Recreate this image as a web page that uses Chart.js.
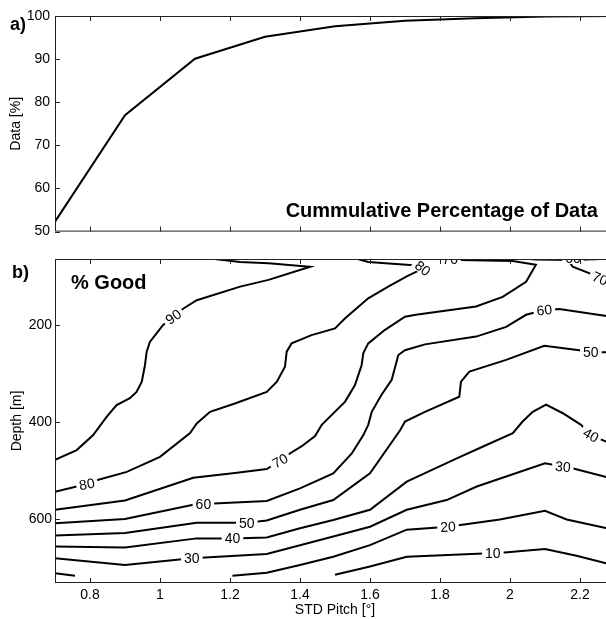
<!DOCTYPE html>
<html>
<head>
<meta charset="utf-8">
<script src="https://cdn.jsdelivr.net/npm/chart.js@4.4.1/dist/chart.umd.min.js"></script>
<style>
  html, body { margin: 0; padding: 0; overflow: hidden; background: #fff; }
  #wrap { position: relative; width: 606px; height: 619px; overflow: hidden; }
  canvas { position: absolute; left: 0; }
  #topChart { top: 0; }
  #bottomChart { top: 245px; }
  .note { position: absolute; font-family: "Liberation Sans", Arial, sans-serif; font-weight: bold;
          line-height: 1; white-space: nowrap; color: #000; }
</style>
</head>
<body>
<div id="wrap">
  <canvas id="topChart" width="620" height="245"></canvas>
  <canvas id="bottomChart" width="620" height="374"></canvas>
  <div class="note" style="left:10px; top:15px; font-size:18px;">a)</div>
  <div class="note" style="left:12px; top:263px; font-size:18px;">b)</div>
  <div class="note" style="left:71px; top:272px; font-size:20px;">% Good</div>
  <div class="note" style="right:8px; top:200px; font-size:20px;">Cummulative Percentage of Data</div>
</div>
<script>
// --- panel a: cumulative percentage of data vs STD pitch
const pitch = [0.7, 0.9, 1.1, 1.3, 1.5, 1.7, 1.9, 2.1, 2.3];
const dataPercent = [52.3, 77.0, 90.1, 95.2, 97.6, 98.9, 99.5, 99.9, 100];

const xTicks = [0.8, 1, 1.2, 1.4, 1.6, 1.8, 2, 2.2];
const xTickLabels = ['0.8', '1', '1.2', '1.4', '1.6', '1.8', '2', '2.2'];
const pctTicks = [50, 60, 70, 80, 90, 100];
const depthTicks = [200, 400, 600];

// --- panel b: % good contours, [STD pitch, depth m]
const c90 = [[1.12,61],[1.229,70],[1.31,73],[1.429,80],[1.31,107],[1.229,121],[1.105,149],[1.067,166],[1.038,183],
  [1.009,200],[0.971,235],[0.962,255],[0.957,283],[0.948,317],[0.933,338],[0.914,351],[0.876,365],[0.848,389],
  [0.809,427],[0.762,458],[0.7,478]];
const c80 = [[0.7,544],[0.791,528],[0.819,520],[0.905,503],[1.0,472],[1.086,423],[1.105,403],[1.143,379],[1.214,362],
  [1.305,338],[1.334,317],[1.357,286],[1.362,255],[1.376,238],[1.433,221],[1.5,207],[1.529,186],[1.595,145],
  [1.652,121],[1.705,100],[1.733,90],[1.751,83],[1.724,77],[1.595,70],[1.55,61]];
const c70 = [[0.7,581],[0.9,562],[1.095,515],[1.214,505],[1.305,497],[1.343,480],[1.371,465],[1.405,450],[1.443,429],
  [1.462,406],[1.529,358],[1.557,324],[1.576,283],[1.581,258],[1.595,238],[1.643,210],[1.7,183],[1.731,179],
  [1.903,162],[1.979,142],[2.046,111],[2.074,76],[2.008,68],[1.855,66],[1.78,61]];
const c70b = [[2.172,72],[2.179,80],[2.226,93],[2.257,104],[2.3,116]];
const c60 = [[0.7,609],[0.9,600],[1.105,569],[1.124,569],[1.305,563],[1.4,537],[1.495,506],[1.548,465],[1.581,427],
  [1.595,406],[1.605,379],[1.633,344],[1.662,313],[1.681,262],[1.7,252],[1.757,240],[1.903,224],[1.989,204],
  [2.046,179],[2.098,169],[2.141,167],[2.3,184]];
const c60b = [[2.0,61],[2.074,65],[2.18,66],[2.3,63]];
const c50 = [[0.7,634],[0.9,629],[1.105,608],[1.248,608],[1.305,603],[1.4,581],[1.495,561],[1.6,506],[1.686,417],
  [1.7,399],[1.757,379],[1.855,348],[1.86,317],[1.884,296],[1.989,272],[2.098,243],[2.198,252],[2.231,256],[2.3,256]];
const c40 = [[0.7,657],[0.9,659],[1.105,640],[1.207,640],[1.305,638],[1.4,619],[1.495,602],[1.6,581],[1.705,523],
  [1.848,475],[1.931,448],[2.008,423],[2.036,399],[2.065,379],[2.103,364],[2.151,382],[2.203,406],[2.231,427],[2.3,448]];
const c30 = [[0.7,681],[0.9,695],[1.091,681],[1.305,672],[1.4,654],[1.495,636],[1.6,616],[1.705,581],[1.819,561],
  [1.905,533],[2.1,485],[2.151,492],[2.181,496],[2.3,518]];
const c20a = [[0.7,712],[0.757,717]];
const c20b = [[1.207,717],[1.305,711],[1.4,695],[1.495,678],[1.6,654],[1.705,622],[1.823,616],[1.971,601],[2.1,583],
  [2.162,601],[2.3,623]];
const c10 = [[1.5,715],[1.6,698],[1.705,678],[1.924,671],[1.951,671],[2.1,662],[2.19,676],[2.3,696]];

const contours = [c90, c80, c70, c70b, c60, c60b, c50, c40, c30, c20a, c20b, c10];

// contour labels
const labelText  = ['90', '80', '80', '70', '70', '70', '60', '60', '60', '50', '50', '40', '40', '30', '30', '20', '10'];
const labelPitch = [1.038, 0.791, 1.751, 1.343, 1.829, 2.257, 1.124, 2.098, 2.18, 1.248, 2.231, 1.207, 2.231, 1.091, 2.151, 1.823, 1.951];
const labelDepth = [183, 528, 83, 480, 64, 104, 569, 169, 62, 608, 256, 640, 427, 681, 492, 616, 671];

const FONT = '"Liberation Sans", Arial, sans-serif';
Chart.defaults.font.family = FONT;
Chart.defaults.font.size = 14;
Chart.defaults.color = '#000';

// box with inward ticks (right side is off the page)
const frame = {
  id: 'frame',
  afterDraw(chart) {
    const { ctx, chartArea: a, scales: { x, y } } = chart;
    ctx.save();
    ctx.strokeStyle = '#222';
    ctx.lineWidth = 1;
    ctx.strokeRect(a.left + 0.5, a.top + 0.5, a.right - a.left, a.bottom - a.top - 1);
    ctx.beginPath();
    x.ticks.forEach(t => {
      const px = Math.round(x.getPixelForValue(t.value)) + 0.5;
      ctx.moveTo(px, a.bottom); ctx.lineTo(px, a.bottom - 5);
      ctx.moveTo(px, a.top); ctx.lineTo(px, a.top + 5);
    });
    y.ticks.forEach(t => {
      const py = Math.round(y.getPixelForValue(t.value)) + 0.5;
      ctx.moveTo(a.left, py); ctx.lineTo(a.left + 5, py);
      ctx.moveTo(a.right, py); ctx.lineTo(a.right - 5, py);
    });
    ctx.stroke();
    ctx.restore();
  }
};

// inline contour labels
const contourLabels = {
  id: 'contourLabels',
  afterDatasetsDraw(chart, args, opts) {
    const { ctx, chartArea: a, scales: { x, y } } = chart;
    ctx.save();
    ctx.beginPath();
    ctx.rect(a.left, a.top, a.right - a.left, a.bottom - a.top);
    ctx.clip();
    ctx.font = '14px ' + FONT;
    ctx.textAlign = 'center';
    ctx.textBaseline = 'middle';
    labelText.forEach((txt, i) => {
      const px = x.getPixelForValue(labelPitch[i]);
      const py = y.getPixelForValue(labelDepth[i]);
      ctx.save();
      ctx.translate(px, py);
      ctx.rotate(opts.rotation[i] * Math.PI / 180);
      const w = ctx.measureText(txt).width;
      ctx.fillStyle = '#fff';
      ctx.fillRect(-w / 2 - 3, -6, w + 6, 12);
      ctx.fillStyle = '#000';
      ctx.fillText(txt, 0, 1);
      ctx.restore();
    });
    ctx.restore();
  }
};

function fixedTicks(values) {
  return scale => { scale.ticks = values.map(v => ({ value: v })); };
}

// panel a
new Chart(document.getElementById('topChart'), {
  type: 'line',
  data: {
    datasets: [{
      data: pitch.map((p, i) => ({ x: p, y: dataPercent[i] })),
      borderColor: '#000',
      borderWidth: 2,
      pointRadius: 0,
      tension: 0,
      fill: false
    }]
  },
  options: {
    responsive: false,
    animation: false,
    events: [],
    layout: { padding: { top: 16, right: 5, left: 0, bottom: 0 } },
    plugins: { legend: { display: false }, tooltip: { enabled: false } },
    scales: {
      x: {
        type: 'linear', min: 0.7, max: 2.3,
        grid: { display: false, drawTicks: false },
        border: { display: false },
        ticks: { display: false },
        afterBuildTicks: fixedTicks(xTicks),
        afterFit: s => { s.height = 13; }
      },
      y: {
        type: 'linear', min: 50, max: 100,
        grid: { display: false, drawTicks: false },
        border: { display: false },
        ticks: { padding: 5, callback: v => String(v) },
        afterBuildTicks: fixedTicks(pctTicks),
        title: { display: true, text: 'Data [%]', padding: { top: 8, bottom: 0 } },
        afterFit: s => { s.width = 55; }
      }
    }
  },
  plugins: [frame]
});

// panel b
new Chart(document.getElementById('bottomChart'), {
  type: 'scatter',
  data: {
    datasets: contours.map(c => ({
      data: c.map(p => ({ x: p[0], y: p[1] })),
      showLine: true,
      borderColor: '#000',
      borderWidth: 2,
      pointRadius: 0,
      tension: 0,
      fill: false
    }))
  },
  options: {
    responsive: false,
    animation: false,
    events: [],
    layout: { padding: { top: 14, right: 5, left: 0, bottom: 0 } },
    plugins: {
      legend: { display: false },
      tooltip: { enabled: false },
      contourLabels: { rotation: [-36, -10, 38, -28, 0, 22, 0, -5, 0, 0, 0, 0, 30, 0, 5, -3, 0] }
    },
    scales: {
      x: {
        type: 'linear', min: 0.7, max: 2.3,
        grid: { display: false, drawTicks: false },
        border: { display: false },
        ticks: { padding: 4, maxRotation: 0, callback: (v, i) => xTickLabels[i] },
        afterBuildTicks: fixedTicks(xTicks),
        title: { display: true, text: 'STD Pitch [°]', padding: { top: 0, bottom: 0 } },
        afterFit: s => { s.height = 36; }
      },
      y: {
        type: 'linear', reverse: true, min: 64, max: 732,
        grid: { display: false, drawTicks: false },
        border: { display: false },
        ticks: { padding: 3, callback: v => String(v) },
        afterBuildTicks: fixedTicks(depthTicks),
        title: { display: true, text: 'Depth [m]', padding: { top: 9, bottom: 0 } },
        afterFit: s => { s.width = 55; }
      }
    }
  },
  plugins: [contourLabels, frame]
});
</script>
</body>
</html>
